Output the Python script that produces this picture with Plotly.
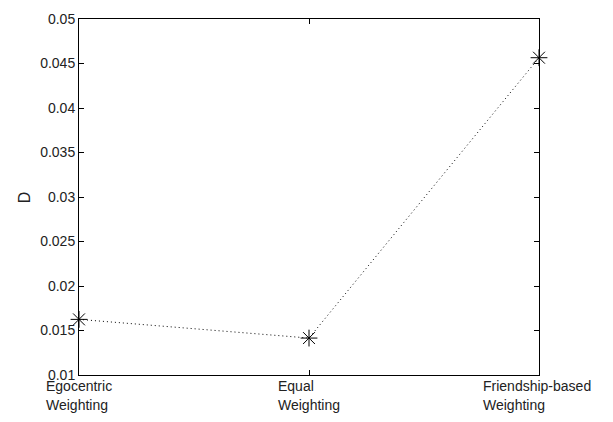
import plotly.graph_objects as go

# Weighting schemes and the D value measured for each
schemes = ["Egocentric Weighting", "Equal Weighting", "Friendship-based Weighting"]
label_line1 = ["Egocentric", "Equal", "Friendship-based"]
label_line2 = ["Weighting", "Weighting", "Weighting"]
d_values = [0.01625, 0.01415, 0.04565]

y_ticks = [0.01, 0.015, 0.02, 0.025, 0.03, 0.035, 0.04, 0.045, 0.05]
y_tick_text = ["0.01", "0.015", "0.02", "0.025", "0.03", "0.035", "0.04", "0.045", "0.05"]

# left shift of each two-line label block so it sits centred under its tick
label_shift = [-35, -33, -58]

FONT = "Liberation Sans, Arial, Helvetica, sans-serif"
TEXT_COLOR = "#222"

fig = go.Figure()
fig.add_trace(go.Scatter(
    x=schemes,
    y=d_values,
    mode="lines+markers",
    line=dict(color="black", width=1, dash="1px,3px"),
    marker=dict(symbol="asterisk-open", size=14, color="black",
                line=dict(color="black", width=1)),
    cliponaxis=False,
    showlegend=False,
))

for name, l1, l2, dx in zip(schemes, label_line1, label_line2, label_shift):
    fig.add_annotation(x=name, y=0, xref="x", yref="paper", text=l1,
                       showarrow=False, xanchor="left", yanchor="top",
                       xshift=dx, yshift=-1, font=dict(family=FONT, size=14, color=TEXT_COLOR))
    fig.add_annotation(x=name, y=0, xref="x", yref="paper", text=l2,
                       showarrow=False, xanchor="left", yanchor="top",
                       xshift=dx, yshift=-20, font=dict(family=FONT, size=14, color=TEXT_COLOR))

fig.add_annotation(x=-0.119, y=0.5, xref="paper", yref="paper", text="D",
                   textangle=-90, showarrow=False, xanchor="center", yanchor="middle",
                   font=dict(family=FONT, size=16, color=TEXT_COLOR))

fig.update_xaxes(
    type="category", range=[0, 2], tickvals=schemes, showticklabels=False,
    ticks="inside", ticklen=5, tickcolor="black", tickwidth=1,
    showline=True, linecolor="black", linewidth=1, mirror="ticks",
    showgrid=False, zeroline=False,
)
fig.update_yaxes(
    range=[0.01, 0.05], tickvals=y_ticks, ticktext=y_tick_text,
    ticks="inside", ticklen=5, tickcolor="black", tickwidth=1,
    showline=True, linecolor="black", linewidth=1, mirror="ticks",
    showgrid=False, zeroline=False,
    tickfont=dict(family=FONT, size=14, color=TEXT_COLOR),
)
fig.update_layout(
    width=613, height=422,
    margin=dict(l=79, r=74, t=11, b=47),
    plot_bgcolor="white", paper_bgcolor="white",
    font=dict(family=FONT, size=14, color=TEXT_COLOR),
)
fig.write_html("out.html")
